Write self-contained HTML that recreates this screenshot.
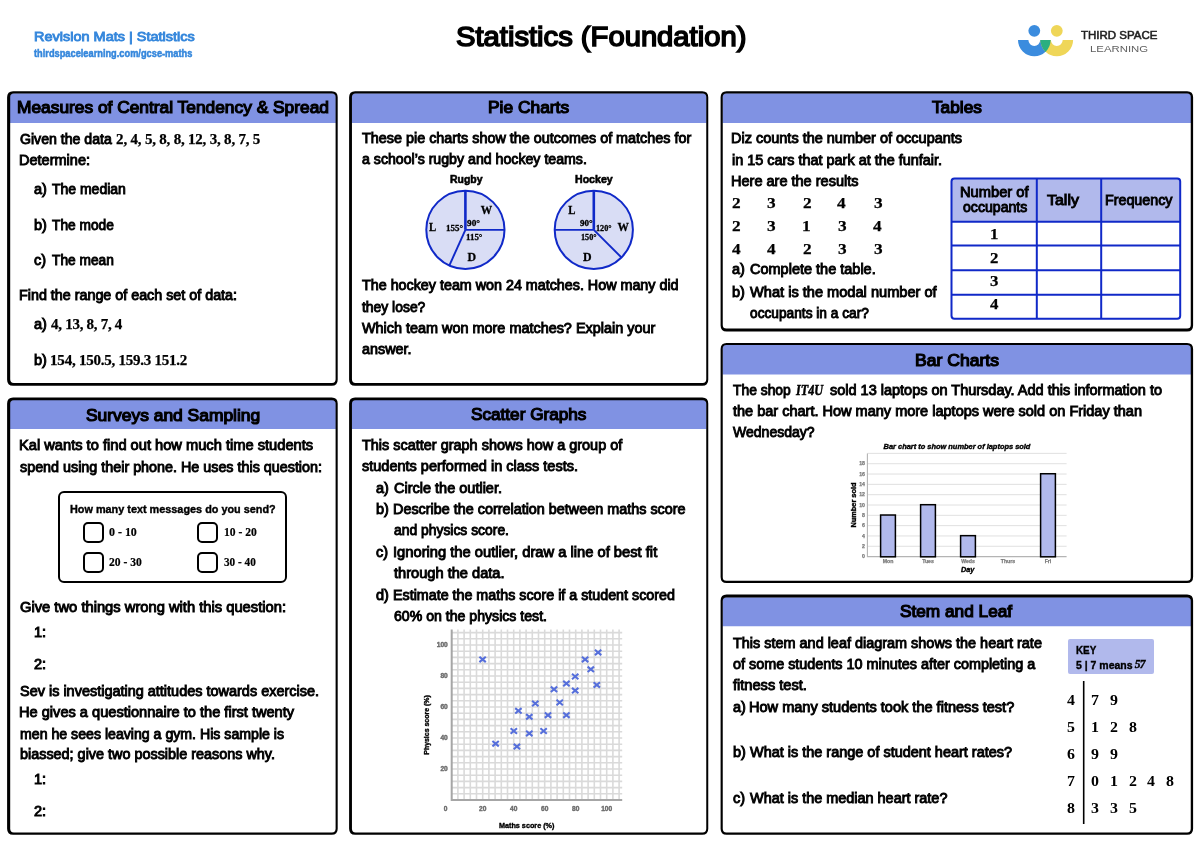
<!DOCTYPE html>
<html lang="en">
<head>
<meta charset="utf-8">
<title>Statistics (Foundation) - Revision Mat</title>
<style>

*{box-sizing:content-box;margin:0;padding:0}
html,body{width:1200px;height:848px;background:#fff;overflow:hidden}
body{font-family:"Liberation Sans",Arial,sans-serif;color:#000}
.page{position:relative;width:1200px;height:848px;background:#fff;overflow:hidden}
.top{position:absolute;left:0;top:0;width:1200px;height:90px}
.panel{position:absolute}
.t{position:absolute;white-space:nowrap;line-height:normal;transform-origin:0 50%}
svg{position:absolute;overflow:visible}
svg text{white-space:pre}
.box{position:absolute;border:2px solid #000;border-radius:6px}
.cb{position:absolute;border:2px solid #000;border-radius:5px;width:17px;height:17px}
.key{position:absolute;background:#b1b9ec;border-radius:2px}
.b{font:normal 400 13.9px/normal "Liberation Sans", Arial, sans-serif;-webkit-text-stroke:0.9px currentColor}
.s{font:normal 700 15px/normal "Liberation Serif", "Times New Roman", serif;-webkit-text-stroke:0.25px currentColor}
.si{font:italic 700 15px/normal "Liberation Serif", "Times New Roman", serif;-webkit-text-stroke:0.5px currentColor}
.h{font:normal 400 16.9px/normal "Liberation Sans", Arial, sans-serif;-webkit-text-stroke:1.2px currentColor}
.title{font:normal 400 28.5px/normal "Liberation Sans", Arial, sans-serif;-webkit-text-stroke:1.6px currentColor}
.br1{font:normal 400 13.6px/normal "Liberation Sans", Arial, sans-serif;-webkit-text-stroke:0.9px currentColor}
.br2{font:normal 700 10.5px/normal "Liberation Sans", Arial, sans-serif;-webkit-text-stroke:0.5px currentColor}
.lg1{font:normal 400 10px/normal "Liberation Sans", Arial, sans-serif;-webkit-text-stroke:0.5px currentColor}
.lg2{font:normal 400 9.9px/normal "Liberation Sans", Arial, sans-serif}
.sm{font:normal 700 11.4px/normal "Liberation Sans", Arial, sans-serif;-webkit-text-stroke:0.6px currentColor}
.q{font:normal 700 11.6px/normal "Liberation Sans", Arial, sans-serif;-webkit-text-stroke:0.4px currentColor}
.ss{font:normal 700 12px/normal "Liberation Serif", "Times New Roman", serif;-webkit-text-stroke:0.2px currentColor}
.k{font:normal 700 11.6px/normal "Liberation Sans", Arial, sans-serif;-webkit-text-stroke:0.4px currentColor}
.sl{font:normal 700 14.2px/normal "Liberation Serif", "Times New Roman", serif}
.ki{font:italic 700 11.5px/normal "Liberation Serif", "Times New Roman", serif;-webkit-text-stroke:0.4px currentColor}
</style>
</head>
<body>
<main class="page">
<header class="top">
<div class="t br1" style="left:33.58px;top:29.00px;transform:scaleX(1.0657);color:#3587dc">Revision Mats | Statistics</div>
<div class="t br2" style="left:34.25px;top:47.00px;transform:scaleX(0.8811);color:#3587dc">thirdspacelearning.com/gcse-maths</div>
<h1 class="t title" style="left:455.58px;top:20.00px;transform:scaleX(1.0240)">Statistics (Foundation)</h1>
<span class="t lg1" style="left:1081.25px;top:30.00px;transform:scaleX(1.1479);color:#222">THIRD SPACE</span>
<span class="t lg2" style="left:1089.70px;top:43.00px;transform:scaleX(1.1505);color:#606060">LEARNING</span>
<svg width="70" height="50" viewBox="1010 15 70 50" style="left:1010px;top:15px" aria-label="Third Space Learning logo">
<circle cx="1034.3" cy="30.8" r="5.9" fill="#3b8cde"/>
<circle cx="1056.8" cy="30.8" r="5.9" fill="#efd658"/>
<path d="M1018 40.1 A16.3 16.3 0 0 0 1050.6 40.1 L1040.2 40.1 A5.9 5.9 0 0 1 1028.4 40.1 Z" fill="#3b8cde"/>
<path d="M1040.5 40.1 A16.3 16.3 0 0 0 1073.1 40.1 L1062.7 40.1 A5.9 5.9 0 0 1 1050.9 40.1 Z" fill="#efd658"/>
<path d="M1040.5 40.1 L1050.6 40.1 A16.3 16.3 0 0 1 1045.55 51.9 A16.3 16.3 0 0 1 1040.5 40.1 Z" fill="#2baf80"/>
</svg>
</header>
<section class="panel" style="left:7px;top:91px;width:331px;height:295px">
<svg class="frame" width="331" height="295" viewBox="7 91 331 295" style="left:0;top:0"><path d="M9.90 123.05 V97.10 Q9.90 93.20 13.80 93.20 H332.00 Q335.90 93.20 335.90 97.10 V123.05 Z" fill="#8092e3"/><path fill-rule="evenodd" d="M13.10 91.35 H331.70 Q337.70 91.35 337.70 97.35 V379.75 Q337.70 385.75 331.70 385.75 H13.10 Q7.10 385.75 7.10 379.75 V97.35 Q7.10 91.35 13.10 91.35 Z M13.80 93.50 H332.00 Q335.60 93.50 335.60 97.10 V379.30 Q335.60 382.90 332.00 382.90 H13.80 Q10.20 382.90 10.20 379.30 V97.10 Q10.20 93.50 13.80 93.50 Z" fill="#000"/></svg>
<h2 class="t h" style="left:9.57px;top:7.00px;transform:scaleX(1.0264)">Measures of Central Tendency &amp; Spread</h2>
<span class="t b" style="left:13.45px;top:40.00px;transform:scaleX(1.0163)">Given the data</span>
<span class="t s" style="left:109.12px;top:40.00px;letter-spacing:-0.205px">2, 4, 5, 8, 8, 12, 3, 8, 7, 5</span>
<span class="t b" style="left:12.40px;top:61.00px;transform:scaleX(1.0458)">Determine:</span>
<span class="t b" style="left:27.00px;top:90.00px;transform:scaleX(1.0450)">a)</span>
<span class="t b" style="left:45.45px;top:90.00px;transform:scaleX(1.0065)">The median</span>
<span class="t b" style="left:27.00px;top:126.00px;transform:scaleX(1.0450)">b)</span>
<span class="t b" style="left:45.45px;top:126.00px;transform:scaleX(0.9886)">The mode</span>
<span class="t b" style="left:27.00px;top:161.00px;transform:scaleX(1.0450)">c)</span>
<span class="t b" style="left:45.45px;top:161.00px;transform:scaleX(0.9884)">The mean</span>
<span class="t b" style="left:12.42px;top:196.00px;transform:scaleX(1.0304)">Find the range of each set of data:</span>
<span class="t b" style="left:27.00px;top:225.00px;transform:scaleX(1.0450)">a)</span>
<span class="t s" style="left:44.12px;top:225.00px;letter-spacing:-0.288px">4, 13, 8, 7, 4</span>
<span class="t b" style="left:27.00px;top:261.00px;transform:scaleX(1.0450)">b)</span>
<span class="t s" style="left:43.12px;top:261.00px;letter-spacing:-0.239px">154, 150.5, 159.3 151.2</span>
</section>
<section class="panel" style="left:349px;top:91px;width:360px;height:295px">
<svg class="frame" width="360" height="295" viewBox="349 91 360 295" style="left:0;top:0"><path d="M351.65 123.05 V97.10 Q351.65 93.20 355.55 93.20 H702.65 Q706.55 93.20 706.55 97.10 V123.05 Z" fill="#8092e3"/><path fill-rule="evenodd" d="M355.10 91.35 H702.25 Q708.25 91.35 708.25 97.35 V379.75 Q708.25 385.75 702.25 385.75 H355.10 Q349.10 385.75 349.10 379.75 V97.35 Q349.10 91.35 355.10 91.35 Z M355.55 93.50 H702.65 Q706.25 93.50 706.25 97.10 V379.30 Q706.25 382.90 702.65 382.90 H355.55 Q351.95 382.90 351.95 379.30 V97.10 Q351.95 93.50 355.55 93.50 Z" fill="#000"/></svg>
<svg width="220" height="90" viewBox="420 185 220 90" style="left:71px;top:94px"><circle cx="465.4" cy="229.8" r="39.1" fill="#d9ddf5" stroke="#1029c8" stroke-width="2"/><line x1="465.4" y1="229.8" x2="465.4" y2="190.6" stroke="#1029c8" stroke-width="2.6"/><line x1="465.4" y1="229.8" x2="504.6" y2="229.8" stroke="#1029c8" stroke-width="1.7"/><line x1="465.4" y1="229.8" x2="449.3" y2="265.6" stroke="#1029c8" stroke-width="1.9"/><circle cx="593.8" cy="229.8" r="39.1" fill="#d9ddf5" stroke="#1029c8" stroke-width="2"/><line x1="593.8" y1="229.8" x2="593.8" y2="190.6" stroke="#1029c8" stroke-width="2.6"/><line x1="593.8" y1="229.8" x2="554.6" y2="229.8" stroke="#1029c8" stroke-width="1.7"/><line x1="593.8" y1="229.8" x2="621.5" y2="257.5" stroke="#1029c8" stroke-width="1.9"/><g font-family="Liberation Serif, serif" font-weight="700" fill="#000" stroke="#000" stroke-width="0.3"><text x="480.8" y="213.8" font-size="12.6" textLength="11.4" lengthAdjust="spacingAndGlyphs">W</text><text x="429" y="231" font-size="12.6" textLength="7.2" lengthAdjust="spacingAndGlyphs">L</text><text x="467.6" y="261" font-size="12.6" textLength="8.6" lengthAdjust="spacingAndGlyphs">D</text><text x="446" y="231" font-size="8.8" textLength="17" lengthAdjust="spacingAndGlyphs">155°</text><text x="467" y="226" font-size="8.8" textLength="13" lengthAdjust="spacingAndGlyphs">90°</text><text x="466" y="240.2" font-size="8.8" textLength="16.4" lengthAdjust="spacingAndGlyphs">115°</text><text x="568.2" y="213.8" font-size="12.6" textLength="7.2" lengthAdjust="spacingAndGlyphs">L</text><text x="617.6" y="231" font-size="12.6" textLength="11.4" lengthAdjust="spacingAndGlyphs">W</text><text x="583" y="261" font-size="12.6" textLength="8.6" lengthAdjust="spacingAndGlyphs">D</text><text x="580" y="226" font-size="8.8" textLength="12.6" lengthAdjust="spacingAndGlyphs">90°</text><text x="596" y="231" font-size="8.8" textLength="15.6" lengthAdjust="spacingAndGlyphs">120°</text><text x="581" y="240.2" font-size="8.8" textLength="15.6" lengthAdjust="spacingAndGlyphs">150°</text></g></svg>
<h2 class="t h" style="left:139.37px;top:7.00px;transform:scaleX(1.0283)">Pie Charts</h2>
<span class="t b" style="left:12.95px;top:39.00px;transform:scaleX(1.0350)">These pie charts show the outcomes of matches for</span>
<span class="t b" style="left:12.95px;top:60.00px;transform:scaleX(1.0195)">a school’s rugby and hockey teams.</span>
<span class="t sm" style="left:100.60px;top:82.00px;transform:scaleX(0.9169)">Rugby</span>
<span class="t sm" style="left:225.60px;top:82.00px;transform:scaleX(0.9299)">Hockey</span>
<span class="t b" style="left:12.95px;top:186.00px;transform:scaleX(1.0301)">The hockey team won 24 matches. How many did</span>
<span class="t b" style="left:12.95px;top:208.00px;transform:scaleX(1.0001)">they lose?</span>
<span class="t b" style="left:12.95px;top:229.00px;transform:scaleX(1.0377)">Which team won more matches? Explain your</span>
<span class="t b" style="left:12.95px;top:250.00px;transform:scaleX(1.0338)">answer.</span>
</section>
<section class="panel" style="left:720px;top:91px;width:474px;height:241px">
<svg class="frame" width="474" height="241" viewBox="720 91 474 241" style="left:0;top:0"><path d="M722.45 123.05 V97.10 Q722.45 93.20 726.35 93.20 H1187.15 Q1191.05 93.20 1191.05 97.10 V123.05 Z" fill="#8092e3"/><path fill-rule="evenodd" d="M726.60 91.35 H1187.10 Q1193.10 91.35 1193.10 97.35 V325.50 Q1193.10 331.50 1187.10 331.50 H726.60 Q720.60 331.50 720.60 325.50 V97.35 Q720.60 91.35 726.60 91.35 Z M726.35 93.50 H1187.15 Q1190.75 93.50 1190.75 97.10 V325.00 Q1190.75 328.60 1187.15 328.60 H726.35 Q722.75 328.60 722.75 325.00 V97.10 Q722.75 93.50 726.35 93.50 Z" fill="#000"/></svg>
<svg width="236" height="146" viewBox="948 176 236 146" style="left:228px;top:85px"><path d="M951.5 221.8 V181.5 Q951.5 178.5 954.5 178.5 H1178.2 Q1180.2 178.5 1180.2 180.5 V221.8 Z" fill="#b1b9ec"/><rect x="951.5" y="178.5" width="228.70000000000005" height="140.2" rx="3" fill="none" stroke="#1029c8" stroke-width="2"/><line x1="951.5" y1="221.8" x2="1180.2" y2="221.8" stroke="#1029c8" stroke-width="2"/><line x1="951.5" y1="245.6" x2="1180.2" y2="245.6" stroke="#1029c8" stroke-width="2"/><line x1="951.5" y1="270.2" x2="1180.2" y2="270.2" stroke="#1029c8" stroke-width="2"/><line x1="951.5" y1="294.7" x2="1180.2" y2="294.7" stroke="#1029c8" stroke-width="2"/><line x1="1036.8" y1="178.5" x2="1036.8" y2="318.7" stroke="#1029c8" stroke-width="2"/><line x1="1101.2" y1="178.5" x2="1101.2" y2="318.7" stroke="#1029c8" stroke-width="2"/></svg>
<h2 class="t h" style="left:212.30px;top:7.00px;transform:scaleX(1.0211)">Tables</h2>
<span class="t b" style="left:11.41px;top:39.00px;transform:scaleX(1.0428)">Diz counts the number of occupants</span>
<span class="t b" style="left:12.45px;top:61.00px;transform:scaleX(1.0380)">in 15 cars that park at the funfair.</span>
<span class="t b" style="left:11.40px;top:82.00px;transform:scaleX(1.0451)">Here are the results</span>
<span class="t s" style="left:12.18px;top:104.00px;transform:scaleX(1.1500)">2</span>
<span class="t s" style="left:47.48px;top:104.00px;transform:scaleX(1.1500)">3</span>
<span class="t s" style="left:82.68px;top:104.00px;transform:scaleX(1.1500)">2</span>
<span class="t s" style="left:117.40px;top:104.00px;transform:scaleX(1.1500)">4</span>
<span class="t s" style="left:153.88px;top:104.00px;transform:scaleX(1.1500)">3</span>
<span class="t s" style="left:12.18px;top:127.00px;transform:scaleX(1.1500)">2</span>
<span class="t s" style="left:47.48px;top:127.00px;transform:scaleX(1.1500)">3</span>
<span class="t s" style="left:82.10px;top:127.00px;transform:scaleX(1.1500)">1</span>
<span class="t s" style="left:117.98px;top:127.00px;transform:scaleX(1.1500)">3</span>
<span class="t s" style="left:153.30px;top:127.00px;transform:scaleX(1.1500)">4</span>
<span class="t s" style="left:11.60px;top:150.00px;transform:scaleX(1.1500)">4</span>
<span class="t s" style="left:46.90px;top:150.00px;transform:scaleX(1.1500)">4</span>
<span class="t s" style="left:82.68px;top:150.00px;transform:scaleX(1.1500)">2</span>
<span class="t s" style="left:117.98px;top:150.00px;transform:scaleX(1.1500)">3</span>
<span class="t s" style="left:153.88px;top:150.00px;transform:scaleX(1.1500)">3</span>
<span class="t b" style="left:12.00px;top:170.00px;transform:scaleX(1.0450)">a)</span>
<span class="t b" style="left:30.35px;top:170.00px;transform:scaleX(1.0435)">Complete the table.</span>
<span class="t b" style="left:12.00px;top:193.00px;transform:scaleX(1.0450)">b)</span>
<span class="t b" style="left:30.35px;top:193.00px;transform:scaleX(1.0511)">What is the modal number of</span>
<span class="t b" style="left:30.35px;top:214.00px;transform:scaleX(0.9873)">occupants in a car?</span>
<span class="t b" style="left:240.09px;top:93.00px;transform:scaleX(1.0564)">Number of</span>
<span class="t b" style="left:242.65px;top:108.00px;transform:scaleX(1.0162)">occupants</span>
<span class="t b" style="left:327.15px;top:101.00px;transform:scaleX(1.1494)">Tally</span>
<span class="t b" style="left:385.02px;top:101.00px;transform:scaleX(1.0281)">Frequency</span>
<span class="t s" style="left:269.82px;top:135.00px;transform:scaleX(1.1200)">1</span>
<span class="t s" style="left:270.38px;top:159.00px;transform:scaleX(1.1200)">2</span>
<span class="t s" style="left:270.38px;top:182.00px;transform:scaleX(1.1200)">3</span>
<span class="t s" style="left:269.82px;top:205.00px;transform:scaleX(1.1200)">4</span>
</section>
<section class="panel" style="left:7px;top:397px;width:331px;height:438px">
<svg class="frame" width="331" height="438" viewBox="7 397 331 438" style="left:0;top:0"><path d="M9.90 429.1 V403.85 Q9.90 399.95 13.80 399.95 H332.00 Q335.90 399.95 335.90 403.85 V429.1 Z" fill="#8092e3"/><path fill-rule="evenodd" d="M13.10 397.40 H331.70 Q337.70 397.40 337.70 403.40 V828.65 Q337.70 834.65 331.70 834.65 H13.10 Q7.10 834.65 7.10 828.65 V403.40 Q7.10 397.40 13.10 397.40 Z M13.80 400.25 H332.00 Q335.60 400.25 335.60 403.85 V828.85 Q335.60 832.45 332.00 832.45 H13.80 Q10.20 832.45 10.20 828.85 V403.85 Q10.20 400.25 13.80 400.25 Z" fill="#000"/></svg>
<div class="box" style="left:50.5px;top:94px;width:225.5px;height:87.5px"></div>
<div class="cb" style="left:76.3px;top:125px"></div>
<div class="cb" style="left:190.3px;top:125px"></div>
<div class="cb" style="left:76.3px;top:155px"></div>
<div class="cb" style="left:190.3px;top:155px"></div>
<h2 class="t h" style="left:78.60px;top:9.00px;transform:scaleX(1.0308)">Surveys and Sampling</h2>
<span class="t b" style="left:12.39px;top:40.00px;transform:scaleX(1.0551)">Kal wants to find out how much time students</span>
<span class="t b" style="left:13.45px;top:62.00px;transform:scaleX(1.0318)">spend using their phone. He uses this question:</span>
<span class="t q" style="left:63.20px;top:105.00px;transform:scaleX(0.9362)">How many text messages do you send?</span>
<span class="t ss" style="left:102.10px;top:128.00px;transform:scaleX(0.9930)">0 - 10</span>
<span class="t ss" style="left:217.10px;top:128.00px;transform:scaleX(0.9648)">10 - 20</span>
<span class="t ss" style="left:102.10px;top:158.00px;transform:scaleX(0.9648)">20 - 30</span>
<span class="t ss" style="left:217.10px;top:158.00px;transform:scaleX(0.9354)">30 - 40</span>
<span class="t b" style="left:13.45px;top:202.00px;transform:scaleX(1.0601)">Give two things wrong with this question:</span>
<span class="t b" style="left:26.95px;top:227.00px;transform:scaleX(1.0450)">1:</span>
<span class="t b" style="left:27.00px;top:259.00px;transform:scaleX(1.0450)">2:</span>
<span class="t b" style="left:13.45px;top:286.00px;transform:scaleX(1.0410)">Sev is investigating attitudes towards exercise.</span>
<span class="t b" style="left:12.40px;top:307.00px;transform:scaleX(1.0510)">He gives a questionnaire to the first twenty</span>
<span class="t b" style="left:13.45px;top:329.00px;transform:scaleX(1.0179)">men he sees leaving a gym. His sample is</span>
<span class="t b" style="left:13.45px;top:349.00px;transform:scaleX(1.0364)">biassed; give two possible reasons why.</span>
<span class="t b" style="left:26.95px;top:374.00px;transform:scaleX(1.0450)">1:</span>
<span class="t b" style="left:27.00px;top:406.00px;transform:scaleX(1.0450)">2:</span>
</section>
<section class="panel" style="left:349px;top:397px;width:360px;height:438px">
<svg class="frame" width="360" height="438" viewBox="349 397 360 438" style="left:0;top:0"><path d="M351.65 429.1 V403.85 Q351.65 399.95 355.55 399.95 H702.65 Q706.55 399.95 706.55 403.85 V429.1 Z" fill="#8092e3"/><path fill-rule="evenodd" d="M355.10 397.40 H702.25 Q708.25 397.40 708.25 403.40 V828.65 Q708.25 834.65 702.25 834.65 H355.10 Q349.10 834.65 349.10 828.65 V403.40 Q349.10 397.40 355.10 397.40 Z M355.55 400.25 H702.65 Q706.25 400.25 706.25 403.85 V828.85 Q706.25 832.45 702.65 832.45 H355.55 Q351.95 832.45 351.95 828.85 V403.85 Q351.95 400.25 355.55 400.25 Z" fill="#000"/></svg>
<svg width="215" height="208" viewBox="415 625 215 208" style="left:66px;top:228px"><line x1="457.90" y1="629.50" x2="457.90" y2="800.0" stroke="#dadada" stroke-width="1.6"/><line x1="451.7" y1="793.80" x2="622.20" y2="793.80" stroke="#dadada" stroke-width="1.6"/><line x1="464.10" y1="629.50" x2="464.10" y2="800.0" stroke="#dadada" stroke-width="1.6"/><line x1="451.7" y1="787.60" x2="622.20" y2="787.60" stroke="#dadada" stroke-width="1.6"/><line x1="470.30" y1="629.50" x2="470.30" y2="800.0" stroke="#dadada" stroke-width="1.6"/><line x1="451.7" y1="781.40" x2="622.20" y2="781.40" stroke="#dadada" stroke-width="1.6"/><line x1="476.50" y1="629.50" x2="476.50" y2="800.0" stroke="#dadada" stroke-width="1.6"/><line x1="451.7" y1="775.20" x2="622.20" y2="775.20" stroke="#dadada" stroke-width="1.6"/><line x1="482.70" y1="629.50" x2="482.70" y2="800.0" stroke="#dadada" stroke-width="1.6"/><line x1="451.7" y1="769.00" x2="622.20" y2="769.00" stroke="#dadada" stroke-width="1.6"/><line x1="488.90" y1="629.50" x2="488.90" y2="800.0" stroke="#dadada" stroke-width="1.6"/><line x1="451.7" y1="762.80" x2="622.20" y2="762.80" stroke="#dadada" stroke-width="1.6"/><line x1="495.10" y1="629.50" x2="495.10" y2="800.0" stroke="#dadada" stroke-width="1.6"/><line x1="451.7" y1="756.60" x2="622.20" y2="756.60" stroke="#dadada" stroke-width="1.6"/><line x1="501.30" y1="629.50" x2="501.30" y2="800.0" stroke="#dadada" stroke-width="1.6"/><line x1="451.7" y1="750.40" x2="622.20" y2="750.40" stroke="#dadada" stroke-width="1.6"/><line x1="507.50" y1="629.50" x2="507.50" y2="800.0" stroke="#dadada" stroke-width="1.6"/><line x1="451.7" y1="744.20" x2="622.20" y2="744.20" stroke="#dadada" stroke-width="1.6"/><line x1="513.70" y1="629.50" x2="513.70" y2="800.0" stroke="#dadada" stroke-width="1.6"/><line x1="451.7" y1="738.00" x2="622.20" y2="738.00" stroke="#dadada" stroke-width="1.6"/><line x1="519.90" y1="629.50" x2="519.90" y2="800.0" stroke="#dadada" stroke-width="1.6"/><line x1="451.7" y1="731.80" x2="622.20" y2="731.80" stroke="#dadada" stroke-width="1.6"/><line x1="526.10" y1="629.50" x2="526.10" y2="800.0" stroke="#dadada" stroke-width="1.6"/><line x1="451.7" y1="725.60" x2="622.20" y2="725.60" stroke="#dadada" stroke-width="1.6"/><line x1="532.30" y1="629.50" x2="532.30" y2="800.0" stroke="#dadada" stroke-width="1.6"/><line x1="451.7" y1="719.40" x2="622.20" y2="719.40" stroke="#dadada" stroke-width="1.6"/><line x1="538.50" y1="629.50" x2="538.50" y2="800.0" stroke="#dadada" stroke-width="1.6"/><line x1="451.7" y1="713.20" x2="622.20" y2="713.20" stroke="#dadada" stroke-width="1.6"/><line x1="544.70" y1="629.50" x2="544.70" y2="800.0" stroke="#dadada" stroke-width="1.6"/><line x1="451.7" y1="707.00" x2="622.20" y2="707.00" stroke="#dadada" stroke-width="1.6"/><line x1="550.90" y1="629.50" x2="550.90" y2="800.0" stroke="#dadada" stroke-width="1.6"/><line x1="451.7" y1="700.80" x2="622.20" y2="700.80" stroke="#dadada" stroke-width="1.6"/><line x1="557.10" y1="629.50" x2="557.10" y2="800.0" stroke="#dadada" stroke-width="1.6"/><line x1="451.7" y1="694.60" x2="622.20" y2="694.60" stroke="#dadada" stroke-width="1.6"/><line x1="563.30" y1="629.50" x2="563.30" y2="800.0" stroke="#dadada" stroke-width="1.6"/><line x1="451.7" y1="688.40" x2="622.20" y2="688.40" stroke="#dadada" stroke-width="1.6"/><line x1="569.50" y1="629.50" x2="569.50" y2="800.0" stroke="#dadada" stroke-width="1.6"/><line x1="451.7" y1="682.20" x2="622.20" y2="682.20" stroke="#dadada" stroke-width="1.6"/><line x1="575.70" y1="629.50" x2="575.70" y2="800.0" stroke="#dadada" stroke-width="1.6"/><line x1="451.7" y1="676.00" x2="622.20" y2="676.00" stroke="#dadada" stroke-width="1.6"/><line x1="581.90" y1="629.50" x2="581.90" y2="800.0" stroke="#dadada" stroke-width="1.6"/><line x1="451.7" y1="669.80" x2="622.20" y2="669.80" stroke="#dadada" stroke-width="1.6"/><line x1="588.10" y1="629.50" x2="588.10" y2="800.0" stroke="#dadada" stroke-width="1.6"/><line x1="451.7" y1="663.60" x2="622.20" y2="663.60" stroke="#dadada" stroke-width="1.6"/><line x1="594.30" y1="629.50" x2="594.30" y2="800.0" stroke="#dadada" stroke-width="1.6"/><line x1="451.7" y1="657.40" x2="622.20" y2="657.40" stroke="#dadada" stroke-width="1.6"/><line x1="600.50" y1="629.50" x2="600.50" y2="800.0" stroke="#dadada" stroke-width="1.6"/><line x1="451.7" y1="651.20" x2="622.20" y2="651.20" stroke="#dadada" stroke-width="1.6"/><line x1="606.70" y1="629.50" x2="606.70" y2="800.0" stroke="#dadada" stroke-width="1.6"/><line x1="451.7" y1="645.00" x2="622.20" y2="645.00" stroke="#dadada" stroke-width="1.6"/><line x1="612.90" y1="629.50" x2="612.90" y2="800.0" stroke="#dadada" stroke-width="1.6"/><line x1="451.7" y1="638.80" x2="622.20" y2="638.80" stroke="#dadada" stroke-width="1.6"/><line x1="619.10" y1="629.50" x2="619.10" y2="800.0" stroke="#dadada" stroke-width="1.6"/><line x1="451.7" y1="632.60" x2="622.20" y2="632.60" stroke="#dadada" stroke-width="1.6"/><path d="M451.7 629.50 V800.0 H622.20" fill="none" stroke="#a6a6a6" stroke-width="2"/><path d="M479.4 656.7L485.8 662.1M479.4 662.1L485.8 656.7M492.4 741.0L498.8 746.4M492.4 746.4L498.8 741.0M510.6 728.3L517.0 733.7M510.6 733.7L517.0 728.3M513.7 743.9L520.1 749.3M513.7 749.3L520.1 743.9M515.2 708.1L521.6 713.5M515.2 713.5L521.6 708.1M526.1 714.1L532.5 719.5M526.1 719.5L532.5 714.1M526.1 730.7L532.5 736.1M526.1 736.1L532.5 730.7M532.1 700.8L538.5 706.2M532.1 706.2L538.5 700.8M540.4 728.3L546.8 733.7M540.4 733.7L546.8 728.3M544.8 712.5L551.2 717.9M544.8 717.9L551.2 712.5M550.8 686.6L557.2 692.0M550.8 692.0L557.2 686.6M556.5 699.8L562.9 705.2M556.5 705.2L562.9 699.8M563.2 680.9L569.6 686.3M563.2 686.3L569.6 680.9M563.2 712.5L569.6 717.9M563.2 717.9L569.6 712.5M572.0 673.8L578.4 679.2M572.0 679.2L578.4 673.8M572.0 687.9L578.4 693.3M572.0 693.3L578.4 687.9M581.9 656.7L588.3 662.1M581.9 662.1L588.3 656.7M587.6 666.6L594.0 672.0M587.6 672.0L594.0 666.6M593.6 682.2L600.0 687.6M593.6 687.6L600.0 682.2M594.9 649.7L601.3 655.1M594.9 655.1L601.3 649.7" stroke="#566fdb" stroke-width="2.1" fill="none"/><g font-family="Liberation Sans, sans-serif" font-size="6.6" font-weight="700" fill="#6c6c6c" stroke="#6c6c6c" stroke-width="0.4" text-anchor="end"><text x="447.8" y="771.4">20</text><text x="447.8" y="740.4">40</text><text x="447.8" y="709.4">60</text><text x="447.8" y="678.4">80</text><text x="447.8" y="647.4">100</text></g><g font-family="Liberation Sans, sans-serif" font-size="6.6" font-weight="700" fill="#6c6c6c" stroke="#6c6c6c" stroke-width="0.4" text-anchor="middle"><text x="445.7" y="811">0</text><text x="482.7" y="811">20</text><text x="513.7" y="811">40</text><text x="544.7" y="811">60</text><text x="575.7" y="811">80</text><text x="606.7" y="811">100</text></g><text x="526.7" y="827.5" text-anchor="middle" font-family="Liberation Sans, sans-serif" font-size="7" font-weight="700" stroke="#000" stroke-width="0.35" textLength="55.5" lengthAdjust="spacingAndGlyphs">Maths score (%)</text><text transform="translate(428.6 725) rotate(-90)" text-anchor="middle" font-family="Liberation Sans, sans-serif" font-size="7" font-weight="700" stroke="#000" stroke-width="0.35" textLength="59.5" lengthAdjust="spacingAndGlyphs">Physics score (%)</text></svg>
<h2 class="t h" style="left:122.40px;top:8.00px;transform:scaleX(1.0164)">Scatter Graphs</h2>
<span class="t b" style="left:12.95px;top:40.00px;transform:scaleX(1.0403)">This scatter graph shows how a group of</span>
<span class="t b" style="left:12.95px;top:61.00px;transform:scaleX(1.0439)">students performed in class tests.</span>
<span class="t b" style="left:27.40px;top:83.00px;transform:scaleX(1.0450)">a)</span>
<span class="t b" style="left:45.45px;top:83.00px;transform:scaleX(1.0439)">Circle the outlier.</span>
<span class="t b" style="left:27.40px;top:104.00px;transform:scaleX(1.0450)">b)</span>
<span class="t b" style="left:44.41px;top:104.00px;transform:scaleX(1.0353)">Describe the correlation between maths score</span>
<span class="t b" style="left:44.95px;top:125.00px;transform:scaleX(0.9993)">and physics score.</span>
<span class="t b" style="left:27.40px;top:147.00px;transform:scaleX(1.0450)">c)</span>
<span class="t b" style="left:44.39px;top:147.00px;transform:scaleX(1.0594)">Ignoring the outlier, draw a line of best fit</span>
<span class="t b" style="left:44.95px;top:168.00px;transform:scaleX(1.0521)">through the data.</span>
<span class="t b" style="left:27.40px;top:190.00px;transform:scaleX(1.0450)">d)</span>
<span class="t b" style="left:44.42px;top:190.00px;transform:scaleX(1.0284)">Estimate the maths score if a student scored</span>
<span class="t b" style="left:44.95px;top:211.00px;transform:scaleX(1.0160)">60% on the physics test.</span>
</section>
<section class="panel" style="left:720px;top:343px;width:474px;height:240px">
<svg class="frame" width="474" height="240" viewBox="720 343 474 240" style="left:0;top:0"><path d="M722.45 374.4 V348.65 Q722.45 344.75 726.35 344.75 H1187.15 Q1191.05 344.75 1191.05 348.65 V374.4 Z" fill="#8092e3"/><path fill-rule="evenodd" d="M726.60 343.10 H1187.10 Q1193.10 343.10 1193.10 349.10 V577.00 Q1193.10 583.00 1187.10 583.00 H726.60 Q720.60 583.00 720.60 577.00 V349.10 Q720.60 343.10 726.60 343.10 Z M726.35 345.05 H1187.15 Q1190.75 345.05 1190.75 348.65 V577.25 Q1190.75 580.85 1187.15 580.85 H726.35 Q722.75 580.85 722.75 577.25 V348.65 Q722.75 345.05 726.35 345.05 Z" fill="#000"/></svg>
<svg width="230" height="140" viewBox="845 440 230 140" style="left:125px;top:97px"><line x1="867.4" y1="546.28" x2="1066.6" y2="546.28" stroke="#dcdcdc" stroke-width="0.9"/><line x1="867.4" y1="535.96" x2="1066.6" y2="535.96" stroke="#dcdcdc" stroke-width="0.9"/><line x1="867.4" y1="525.64" x2="1066.6" y2="525.64" stroke="#dcdcdc" stroke-width="0.9"/><line x1="867.4" y1="515.32" x2="1066.6" y2="515.32" stroke="#dcdcdc" stroke-width="0.9"/><line x1="867.4" y1="505.00" x2="1066.6" y2="505.00" stroke="#dcdcdc" stroke-width="0.9"/><line x1="867.4" y1="494.68" x2="1066.6" y2="494.68" stroke="#dcdcdc" stroke-width="0.9"/><line x1="867.4" y1="484.36" x2="1066.6" y2="484.36" stroke="#dcdcdc" stroke-width="0.9"/><line x1="867.4" y1="474.04" x2="1066.6" y2="474.04" stroke="#dcdcdc" stroke-width="0.9"/><line x1="867.4" y1="463.72" x2="1066.6" y2="463.72" stroke="#dcdcdc" stroke-width="0.9"/><line x1="867.4" y1="453.40" x2="1066.6" y2="453.40" stroke="#dcdcdc" stroke-width="0.9"/><path d="M867.4 453.40 V556.6 H1066.6" fill="none" stroke="#b4b4b4" stroke-width="1.1"/><rect x="880.6" y="515.02" width="14.8" height="41.78" fill="#b1b9ec" stroke="#000" stroke-width="1.5"/><rect x="920.6" y="504.70" width="14.8" height="52.10" fill="#b1b9ec" stroke="#000" stroke-width="1.5"/><rect x="960.6" y="535.66" width="14.8" height="21.14" fill="#b1b9ec" stroke="#000" stroke-width="1.5"/><rect x="1040.6" y="473.74" width="14.8" height="83.06" fill="#b1b9ec" stroke="#000" stroke-width="1.5"/><g font-family="Liberation Sans, sans-serif" font-size="5.2" font-weight="700" fill="#7a7a7a" stroke="#7a7a7a" stroke-width="0.25" text-anchor="end"><text x="865" y="558.2">0</text><text x="865" y="547.9">2</text><text x="865" y="537.6">4</text><text x="865" y="527.2">6</text><text x="865" y="516.9">8</text><text x="865" y="506.6">10</text><text x="865" y="496.3">12</text><text x="865" y="486.0">14</text><text x="865" y="475.6">16</text><text x="865" y="465.3">18</text></g><g font-family="Liberation Sans, sans-serif" font-size="5.2" font-weight="700" fill="#7a7a7a" stroke="#7a7a7a" stroke-width="0.25" text-anchor="middle"><text x="888" y="563.2">Mon</text><text x="928" y="563.2">Tues</text><text x="968" y="563.2">Weds</text><text x="1008" y="563.2">Thurs</text><text x="1048" y="563.2">Fri</text></g><g font-family="Liberation Sans, sans-serif" font-weight="700" font-style="italic" fill="#000" stroke="#000" stroke-width="0.35"><text x="957" y="449.4" text-anchor="middle" font-size="6.6" textLength="146.8" lengthAdjust="spacingAndGlyphs">Bar chart to show number of laptops sold</text><text x="967.7" y="572.4" text-anchor="middle" font-size="6.6" textLength="13.4" lengthAdjust="spacingAndGlyphs">Day</text></g><text transform="translate(855.6 505) rotate(-90)" text-anchor="middle" font-family="Liberation Sans, sans-serif" font-size="6.8" font-weight="700" stroke="#000" stroke-width="0.35" textLength="45" lengthAdjust="spacingAndGlyphs">Number sold</text></svg>
<h2 class="t h" style="left:194.96px;top:8.00px;transform:scaleX(1.0394)">Bar Charts</h2>
<span class="t b" style="left:12.85px;top:39.00px;transform:scaleX(0.9967)">The shop</span>
<span class="t si" style="left:76.46px;top:39.00px;transform:scaleX(0.8141)">IT4U</span>
<span class="t b" style="left:110.25px;top:39.00px;transform:scaleX(1.0426)">sold 13 laptops on Thursday. Add this information to</span>
<span class="t b" style="left:12.95px;top:60.00px;transform:scaleX(1.0448)">the bar chart. How many more laptops were sold on Friday than</span>
<span class="t b" style="left:12.95px;top:81.00px;transform:scaleX(1.0098)">Wednesday?</span>
</section>
<section class="panel" style="left:720px;top:594px;width:474px;height:241px">
<svg class="frame" width="474" height="241" viewBox="720 594 474 241" style="left:0;top:0"><path d="M722.45 626.15 V601.05 Q722.45 597.15 726.35 597.15 H1187.15 Q1191.05 597.15 1191.05 601.05 V626.15 Z" fill="#8092e3"/><path fill-rule="evenodd" d="M726.60 594.45 H1187.10 Q1193.10 594.45 1193.10 600.45 V828.65 Q1193.10 834.65 1187.10 834.65 H726.60 Q720.60 834.65 720.60 828.65 V600.45 Q720.60 594.45 726.60 594.45 Z M726.35 597.45 H1187.15 Q1190.75 597.45 1190.75 601.05 V828.85 Q1190.75 832.45 1187.15 832.45 H726.35 Q722.75 832.45 722.75 828.85 V601.05 Q722.75 597.45 726.35 597.45 Z" fill="#000"/></svg>
<div class="key" style="left:347.5px;top:45.39999999999998px;width:86.3px;height:34.8px"></div>
<svg width="4" height="146" viewBox="1082 680 4 146" style="left:362px;top:86px"><line x1="1083.7" y1="681" x2="1083.7" y2="824" stroke="#000" stroke-width="1.6"/></svg>
<h2 class="t h" style="left:180.20px;top:8.00px;transform:scaleX(1.0202)">Stem and Leaf</h2>
<span class="t b" style="left:12.95px;top:41.00px;transform:scaleX(1.0392)">This stem and leaf diagram shows the heart rate</span>
<span class="t b" style="left:12.95px;top:62.00px;transform:scaleX(1.0358)">of some students 10 minutes after completing a</span>
<span class="t b" style="left:12.95px;top:83.00px;transform:scaleX(1.0520)">fitness test.</span>
<span class="t b" style="left:12.50px;top:105.00px;transform:scaleX(1.0450)">a)</span>
<span class="t b" style="left:29.40px;top:105.00px;transform:scaleX(1.0474)">How many students took the fitness test?</span>
<span class="t b" style="left:12.50px;top:150.00px;transform:scaleX(1.0450)">b)</span>
<span class="t b" style="left:30.45px;top:150.00px;transform:scaleX(1.0409)">What is the range of student heart rates?</span>
<span class="t b" style="left:12.50px;top:196.00px;transform:scaleX(1.0450)">c)</span>
<span class="t b" style="left:30.45px;top:196.00px;transform:scaleX(1.0394)">What is the median heart rate?</span>
<span class="t k" style="left:355.60px;top:49.00px;transform:scaleX(0.8504)">KEY</span>
<span class="t k" style="left:355.60px;top:64.00px;transform:scaleX(0.9051)">5 | 7 means</span>
<span class="t ki" style="left:414.70px;top:64.00px;letter-spacing:-0.750px">57</span>
<span class="t sl" style="left:347.48px;top:98.00px;transform:scaleX(1.1200)">4</span>
<span class="t sl" style="left:371.18px;top:98.00px;transform:scaleX(1.1200)">7</span>
<span class="t sl" style="left:390.08px;top:98.00px;transform:scaleX(1.1200)">9</span>
<span class="t sl" style="left:347.48px;top:125.00px;transform:scaleX(1.1200)">5</span>
<span class="t sl" style="left:370.62px;top:125.00px;transform:scaleX(1.1200)">1</span>
<span class="t sl" style="left:390.08px;top:125.00px;transform:scaleX(1.1200)">2</span>
<span class="t sl" style="left:409.08px;top:125.00px;transform:scaleX(1.1200)">8</span>
<span class="t sl" style="left:347.48px;top:152.00px;transform:scaleX(1.1200)">6</span>
<span class="t sl" style="left:371.18px;top:152.00px;transform:scaleX(1.1200)">9</span>
<span class="t sl" style="left:390.08px;top:152.00px;transform:scaleX(1.1200)">9</span>
<span class="t sl" style="left:347.48px;top:179.00px;transform:scaleX(1.1200)">7</span>
<span class="t sl" style="left:371.18px;top:179.00px;transform:scaleX(1.1200)">0</span>
<span class="t sl" style="left:389.52px;top:179.00px;transform:scaleX(1.1200)">1</span>
<span class="t sl" style="left:409.08px;top:179.00px;transform:scaleX(1.1200)">2</span>
<span class="t sl" style="left:427.38px;top:179.00px;transform:scaleX(1.1200)">4</span>
<span class="t sl" style="left:445.68px;top:179.00px;transform:scaleX(1.1200)">8</span>
<span class="t sl" style="left:347.48px;top:206.00px;transform:scaleX(1.1200)">8</span>
<span class="t sl" style="left:371.18px;top:206.00px;transform:scaleX(1.1200)">3</span>
<span class="t sl" style="left:390.08px;top:206.00px;transform:scaleX(1.1200)">3</span>
<span class="t sl" style="left:409.08px;top:206.00px;transform:scaleX(1.1200)">5</span>
</section>
</main>
</body>
</html>
